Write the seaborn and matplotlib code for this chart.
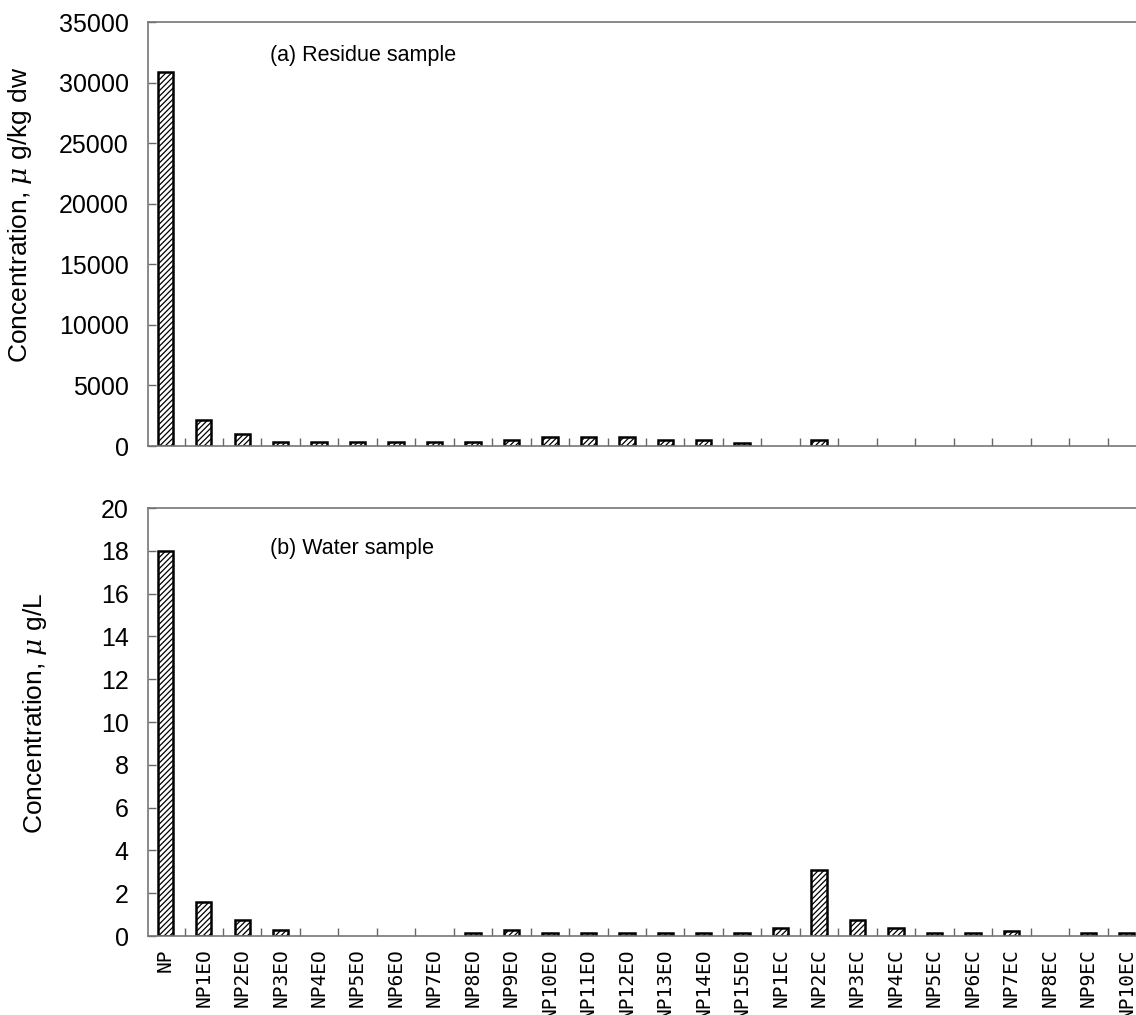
import numpy as np
import pandas as pd
import seaborn as sns
from matplotlib import pyplot as plt
from matplotlib import transforms

sns.set_theme(style="white")
plt.rcParams["font.family"] = ["Liberation Sans", "DejaVu Sans"]
plt.rcParams["hatch.linewidth"] = 0.9
plt.rcParams["mathtext.fontset"] = "dejavuserif"
for key in ["text.color", "axes.labelcolor", "xtick.labelcolor", "ytick.labelcolor"]:
    plt.rcParams[key] = "black"

compounds = (
    ["NP"]
    + [f"NP{i}EO" for i in range(1, 16)]
    + [f"NP{i}EC" for i in range(1, 11)]
)

residue = [
    30900, 2150, 950, 300, 300, 300, 300, 300, 300, 500,
    720, 720, 720, 500, 500, 280,
    0, 480, 0, 0, 0, 0, 0, 0, 0, 0,
]

water = [
    18.0, 1.58, 0.75, 0.28, 0, 0, 0, 0, 0.13, 0.28,
    0.13, 0.13, 0.13, 0.13, 0.13, 0.13,
    0.38, 3.1, 0.75, 0.38, 0.13, 0.13, 0.25, 0, 0.13, 0.13,
]

df = pd.DataFrame({"compound": compounds, "residue": residue, "water": water})

W, H = 1136, 1015
fig = plt.figure(figsize=(W / 100, H / 100), dpi=100)
ax_a = fig.add_axes([148 / W, 1 - 446 / H, 998 / W, 424 / H])
ax_b = fig.add_axes([148 / W, 1 - 936 / H, 998 / W, 428 / H])

tick_font = ["Liberation Sans Narrow", "Liberation Sans"]

panels = [
    (ax_a, "residue", 35000, 5000, "(a) Residue sample",
     r"Concentration, $\mu$ g/kg dw", 0.92, 34, 0.545),
    (ax_b, "water", 20, 2, "(b) Water sample",
     r"Concentration, $\mu$ g/L", 0.905, 49, 0.52),
]

for ax, col, ymax, step, title, ylabel, ty, lx, ly in panels:
    sns.barplot(data=df, x="compound", y=col, ax=ax, color="white",
                edgecolor="black", linewidth=1.8, hatch="//////", width=0.4,
                saturation=1)
    # zero values draw nothing
    for p in ax.patches:
        if p.get_height() == 0:
            p.set_visible(False)
    ax.set_xlim(-0.45, len(compounds) - 0.5)
    ax.set_ylim(0, ymax)
    ax.set_yticks(np.arange(0, ymax + 1, step))
    ax.set_yticklabels([f"{v:g}" for v in np.arange(0, ymax + 1, step)],
                       family=tick_font, fontsize=18)
    ax.set_xticks(np.arange(0.5, len(compounds) - 0.5), minor=True)
    ax.tick_params(axis="x", which="major", length=0)
    ax.tick_params(axis="x", which="minor", direction="in", length=6,
                   width=1, color="#666666", bottom=True)
    ax.tick_params(axis="y", direction="in", length=6, width=1,
                   color="#666666", left=True, pad=14)
    for side in ["left", "top", "bottom"]:
        ax.spines[side].set_color("#777777")
        ax.spines[side].set_linewidth(1.2)
    ax.spines["right"].set_visible(False)
    ax.set_xlabel("")
    ax.set_ylabel(ylabel, fontsize=19)
    ax.yaxis.set_label_coords(
        lx / W, ly,
        transform=transforms.blended_transform_factory(fig.transFigure, ax.transAxes))
    ax.text(0.122, ty, title, transform=ax.transAxes, fontsize=15.5,
            va="center", ha="left")

ax_a.tick_params(axis="x", labelbottom=False)
ax_b.set_xticks(range(len(compounds)))
ax_b.set_xticklabels(compounds, rotation=90, fontsize=14,
                     family=["DejaVu Sans Mono", "DejaVu Sans"])
ax_b.tick_params(axis="x", which="major", pad=9)

fig.savefig("out.png", dpi=100)
